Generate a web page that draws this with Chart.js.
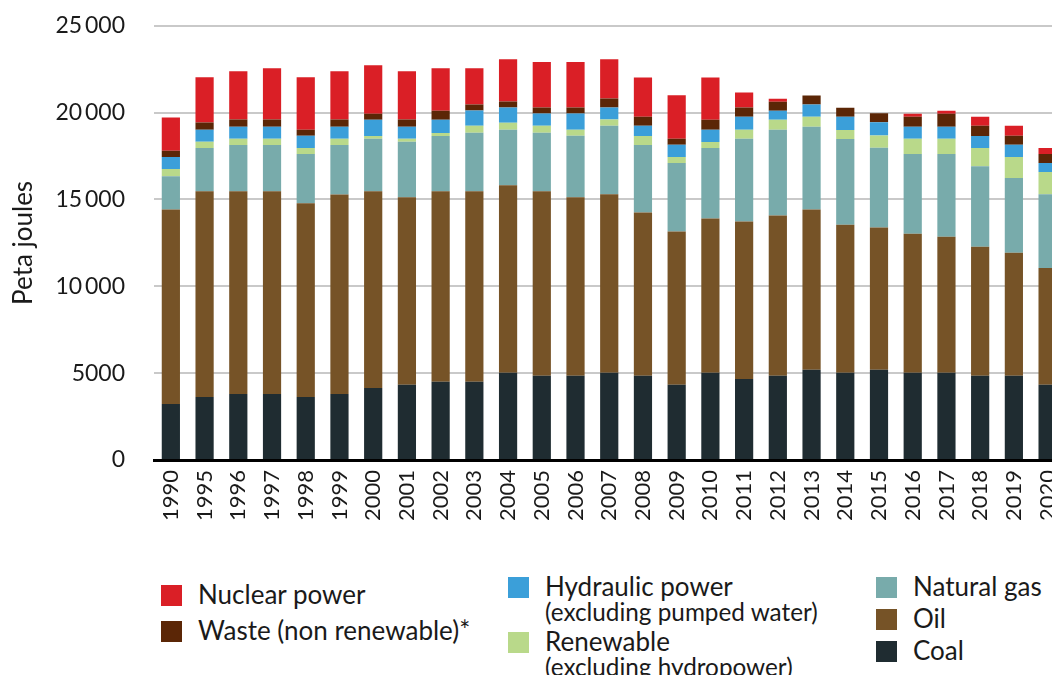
<!DOCTYPE html>
<html>
<head>
<meta charset="utf-8">
<script src="https://cdn.jsdelivr.net/npm/chart.js@4.4.1/dist/chart.umd.min.js"></script>
<style>
  html, body { margin: 0; padding: 0; background: #fff; overflow: hidden; }
  body { width: 1052px; height: 675px; position: relative; font-family: Lato, sans-serif; color: #1a1a1a; }
  #chartBox { position: absolute; left: 0; top: -17px; width: 1084px; height: 577px; }
  .key { position: absolute; width: 21px; height: 21px; }
  .lbl { position: absolute; font-size: 26px; line-height: 26px; white-space: nowrap; }
  .sub { position: absolute; font-size: 24.3px; line-height: 23px; white-space: nowrap; }
</style>
</head>
<body>
<div id="chartBox"><canvas id="energyChart"></canvas></div>
<div id="legend"></div>
<script>
const years = ['1990','1995','1996','1997','1998','1999','2000','2001','2002','2003','2004','2005','2006','2007','2008','2009','2010','2011','2012','2013','2014','2015','2016','2017','2018','2019','2020'];

// Peta joules per source
const coal      = [3220,3630,3800,3800,3630,3800,4150,4330,4500,4500,5020,4850,4850,5020,4850,4330,5020,4670,4850,5200,5020,5200,5020,5020,4850,4850,4330];
const oil       = [11200,11840,11670,11670,11150,11490,11320,10800,10970,10970,10800,10620,10280,10280,9400,8820,8880,9060,9230,9230,8530,8190,8010,7840,7430,7080,6730];
const naturalGas = [1920,2500,2670,2670,2840,2850,3020,3190,3190,3370,3190,3370,3540,3950,3890,3950,4060,4760,4930,4760,4930,4590,4590,4760,4640,4300,4240];
const renewable = [410,350,350,350,350,350,170,170,170,410,410,410,350,350,520,350,350,520,580,580,520,700,870,870,1040,1220,1280];
const hydraulic = [700,700,700,700,700,700,930,700,760,870,870,700,930,700,580,700,700,760,520,700,760,760,700,700,700,700,520];
const waste     = [350,410,410,410,350,410,350,410,520,350,350,350,350,520,520,350,580,520,520,520,520,520,580,750,580,520,520];
const nuclear   = [1920,2610,2790,2960,3020,2790,2790,2790,2440,2090,2440,2610,2610,2260,2260,2500,2440,870,170,0,0,0,170,170,520,580,350];

const yTickLabels = ['0', '5000', '10\u2009000', '15\u2009000', '20\u2009000', '25\u2009000'];

// bottom to top
const series = [
    { label: 'Coal', data: coal, color: '#1f2c31' },
    { label: 'Oil', data: oil, color: '#765327' },
    { label: 'Natural gas', data: naturalGas, color: '#78abab' },
    { label: 'Renewable', data: renewable, color: '#b9d98a' },
    { label: 'Hydraulic power', data: hydraulic, color: '#3b9fd9' },
    { label: 'Waste (non renewable)*', data: waste, color: '#5b2606' },
    { label: 'Nuclear power', data: nuclear, color: '#da1f26' }
];

const ctx = document.getElementById('energyChart').getContext('2d');
new Chart(ctx, {
    type: 'bar',
    data: {
        labels: years,
        datasets: series.map(s => ({
            label: s.label,
            data: s.data,
            backgroundColor: s.color,
            borderWidth: 0,
            barPercentage: 0.54,
            categoryPercentage: 1
        }))
    },
    options: {
        responsive: true,
        maintainAspectRatio: false,
        animation: false,
        layout: { padding: { top: 10, right: 0, left: 0, bottom: 0 } },
        plugins: { legend: { display: false }, tooltip: { enabled: false } },
        scales: {
            x: {
                stacked: true,
                grid: { display: false, drawTicks: false },
                border: { display: true, color: '#000', width: 3 },
                ticks: {
                    color: '#1a1a1a',
                    font: { family: 'Lato', size: 22 },
                    minRotation: 90, maxRotation: 90,
                    autoSkip: false,
                    padding: 10
                },
                afterFit: (scale) => { scale.height = 100; }
            },
            y: {
                stacked: true,
                min: 0, max: 25000,
                grid: { color: '#c9c9c9', lineWidth: 2, drawTicks: false },
                border: { display: false },
                ticks: {
                    stepSize: 5000,
                    color: '#1a1a1a',
                    font: { family: 'Lato', size: 23 },
                    padding: 29,
                    callback: (v, i) => yTickLabels[i]
                },
                title: {
                    display: true,
                    text: 'Peta joules',
                    color: '#1a1a1a',
                    font: { family: 'Lato', size: 26 },
                    padding: { top: 8, bottom: 0 }
                },
                afterFit: (scale) => { scale.width = 154; }
            }
        }
    }
});

// legend, three columns like the original
const legendItems = [
    { s: 6, x: 161, y: 585, sub: null },
    { s: 5, x: 161, y: 621, sub: null },
    { s: 4, x: 508, y: 577, sub: '(excluding pumped water)' },
    { s: 3, x: 508, y: 632, sub: '(excluding hydropower)' },
    { s: 2, x: 876, y: 577, sub: null },
    { s: 1, x: 876, y: 609, sub: null },
    { s: 0, x: 876, y: 641, sub: null }
];
const legend = document.getElementById('legend');
legendItems.forEach(item => {
    const s = series[item.s];
    const key = document.createElement('div');
    key.className = 'key';
    key.style.left = item.x + 'px';
    key.style.top = item.y + 'px';
    key.style.background = s.color;
    legend.appendChild(key);
    const lbl = document.createElement('div');
    lbl.className = 'lbl';
    lbl.style.left = (item.x + 37) + 'px';
    lbl.style.top = (item.y - 4) + 'px';
    lbl.textContent = s.label;
    legend.appendChild(lbl);
    if (item.sub) {
        const sub = document.createElement('div');
        sub.className = 'sub';
        sub.style.left = (item.x + 37) + 'px';
        sub.style.top = (item.y + 23) + 'px';
        sub.textContent = item.sub;
        legend.appendChild(sub);
    }
});
</script>
</body>
</html>
